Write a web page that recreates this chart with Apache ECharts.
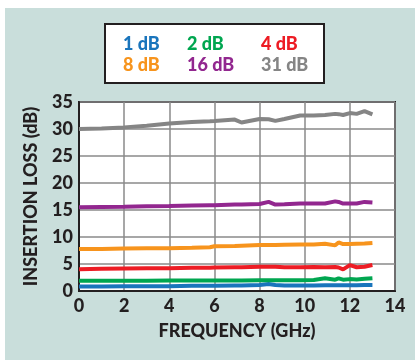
<!DOCTYPE html>
<html>
<head>
<meta charset="utf-8">
<script src="https://cdn.jsdelivr.net/npm/echarts@6/dist/echarts.min.js"></script>
<style>
html,body{margin:0;padding:0;background:#fff;}
#panel{position:absolute;left:5px;top:8px;width:410px;height:352px;background:#c9dedb;}
#chart{position:absolute;left:0;top:0;width:415px;height:360px;}
</style>
</head>
<body>
<div id="panel"></div>
<div id="chart"></div>
<script>
var freq = [0, 1, 2, 3, 4, 5, 5.8, 6, 6.9, 7.2, 8, 8.4, 8.7, 9.1, 9.8, 10.4, 10.9, 11.35, 11.5, 11.7, 12, 12.3, 12.65, 13];
var loss31 = [30.0, 30.1, 30.3, 30.6, 31.0, 31.3, 31.45, 31.5, 31.75, 31.2, 31.85, 31.8, 31.5, 31.85, 32.5, 32.5, 32.6, 32.8, 32.75, 32.6, 32.95, 32.8, 33.3, 32.7];
var loss16 = [15.5, 15.55, 15.6, 15.7, 15.75, 15.85, 15.9, 15.9, 16.0, 16.0, 16.1, 16.5, 16.0, 16.05, 16.2, 16.2, 16.2, 16.6, 16.5, 16.2, 16.2, 16.2, 16.5, 16.4];
var loss8 = [7.8, 7.8, 7.85, 7.9, 7.9, 8.0, 8.1, 8.3, 8.35, 8.4, 8.5, 8.5, 8.5, 8.55, 8.6, 8.6, 8.75, 8.45, 9.0, 8.7, 8.7, 8.75, 8.8, 8.9];
var loss4 = [4.05, 4.1, 4.15, 4.2, 4.2, 4.3, 4.3, 4.35, 4.4, 4.4, 4.5, 4.5, 4.5, 4.4, 4.4, 4.45, 4.4, 4.45, 4.35, 4.0, 4.8, 4.4, 4.5, 4.8];
var loss2 = [1.9, 1.9, 1.9, 1.9, 1.95, 1.95, 1.95, 1.95, 1.95, 1.95, 2.0, 2.0, 2.0, 2.0, 2.0, 2.05, 2.35, 2.1, 2.35, 2.1, 2.2, 2.15, 2.25, 2.35];
var loss1 = [0.85, 0.85, 0.9, 0.9, 0.9, 0.95, 0.95, 0.95, 1.0, 1.0, 1.1, 1.3, 1.1, 1.0, 1.0, 1.0, 1.05, 1.05, 1.05, 1.05, 1.05, 1.05, 1.1, 1.1];
var seriesNames = ['1 dB', '2 dB', '4 dB', '8 dB', '16 dB', '31 dB'];
var seriesValues = [loss1, loss2, loss4, loss8, loss16, loss31];
var colors = ['#1a75bc', '#00a650', '#ed1c24', '#f7941d', '#92278f', '#858585'];

var FONT = 'Lato';
var W = 900;
var dark = '#231f20';

function pairs(vals) {
  return freq.map(function (f, i) { return [f, vals[i]]; });
}

var legendPos = [[118, 35], [182, 35], [256, 35], [118, 56], [182, 56], [256, 56]];
var legends = seriesNames.map(function (n, i) {
  return {
    data: [n],
    left: legendPos[i][0],
    top: legendPos[i][1],
    padding: 0,
    icon: 'none',
    itemWidth: 0,
    itemHeight: 0,
    selectedMode: false,
    textStyle: { color: colors[i], fontFamily: FONT, fontWeight: W, fontSize: 18 }
  };
});

var chart = echarts.init(document.getElementById('chart'), null, { renderer: 'canvas' });
chart.setOption({
  backgroundColor: 'transparent',
  animation: false,
  color: colors,
  legend: legends,
  graphic: [{
    type: 'rect',
    z: 1,
    shape: { x: 105, y: 24, width: 219, height: 59 },
    style: { fill: '#fff', stroke: dark, lineWidth: 2 }
  }],
  grid: {
    left: 79, top: 102, right: 20, bottom: 69,
    show: true, backgroundColor: '#fff', borderColor: dark, borderWidth: 2
  },
  xAxis: {
    type: 'value', min: 0, max: 14, interval: 2,
    name: 'FREQUENCY (GHz)', nameLocation: 'middle', nameGap: 31,
    nameTextStyle: { color: dark, fontFamily: FONT, fontWeight: W, fontSize: 18 },
    axisLine: { show: true, lineStyle: { color: dark, width: 2 } },
    axisTick: { show: false },
    axisLabel: { color: dark, fontFamily: FONT, fontWeight: W, fontSize: 18, margin: 6 },
    splitLine: { show: true, lineStyle: { color: '#8a8a8a', width: 1.5 } }
  },
  yAxis: {
    type: 'value', min: 0, max: 35, interval: 5,
    name: 'INSERTION LOSS (dB)', nameLocation: 'middle', nameGap: 39,
    nameTextStyle: { color: dark, fontFamily: FONT, fontWeight: W, fontSize: 18 },
    axisLine: { show: true, lineStyle: { color: dark, width: 2 } },
    axisTick: { show: false },
    axisLabel: { color: dark, fontFamily: FONT, fontWeight: W, fontSize: 18, margin: 6 },
    splitLine: { show: true, lineStyle: { color: '#8a8a8a', width: 1.5 } }
  },
  series: seriesNames.map(function (n, i) {
    return {
      name: n, type: 'line', data: pairs(seriesValues[i]),
      symbol: 'none', smooth: false,
      lineStyle: { width: 4, color: colors[i] },
      itemStyle: { color: colors[i] }
    };
  })
});
</script>
</body>
</html>
